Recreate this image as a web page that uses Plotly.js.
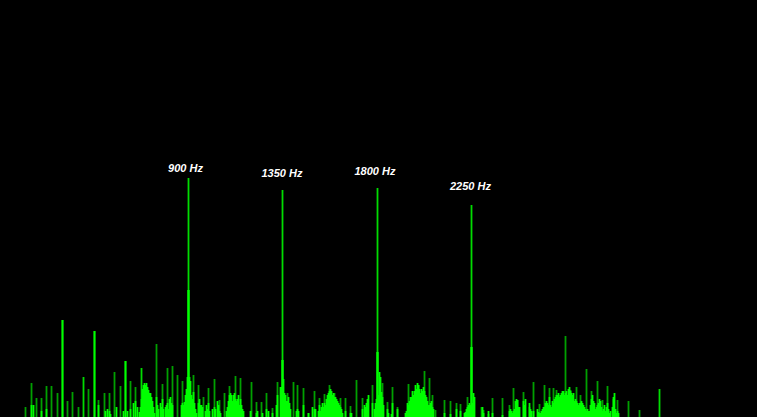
<!DOCTYPE html>
<html><head><meta charset="utf-8">
<script src="https://cdn.plot.ly/plotly-3.0.1.min.js"></script>
<style>html,body{margin:0;padding:0;background:#000}</style></head>
<body><div id="c" style="width:757px;height:417px"></div>
<script>
// Spectrum bins (one bin per drawn column) and magnitudes
const dimBins=[25,31,36,41,46,51,57,67,72,78,88,98,104,109,114,120,130,135,156,162,167,172,177,182,193,198,203,208,214,219,224,229,235,240,251,256,261,266,272,277,287,293,297,303,308,314,319,324,329,334,340,345,350,356,362,365,372,382,387,392,397,408,413,418,424,429,432,435,444,450,456,460,467,481,483,488,492,502,509,513,517,523,529,533,539,544,549,553,556,560,565,570,576,580,586,591,597,602,607,613,617,628,639];
const dimVals=[10,34,19,19,31,31,24,16,25,10,28,17,24,24,45,31,36,30,73,33,49,51,42,36,42,32,20,29,38,17,24,31,41,39,35,15,15,24,9,35,24,35,32,29,4,26,19,23,32,24,19,19,11,37,19,5,32,34,15,30,10,33,17,32,46,39,22,7,17,16,14,13,20,10,7,3,19,19,12,29,17,25,10,35,13,32,29,29,27,22,81,27,30,22,48,26,36,17,31,18,17,16,7];
const midBins=[62,83,94,125,141,188,282,377,471,659];
const midVals=[97,40,86,56,49,239,227,229,212,28];
const coreBins=[188,282,377,471];
const coreVals=[127,57,65,70];
const brightBins=[31,33,41,46,62,94,98,105,107,109,110,116,123,125,127,130,133,135,137,139,140,141,142,143,144,145,146,147,148,149,150,151,152,153,154,156,157,158,160,161,162,163,165,166,167,168,169,170,171,172,181,182,183,184,185,186,187,189,190,191,192,193,194,195,196,198,199,200,201,202,205,206,207,208,209,212,214,215,217,218,219,220,226,227,228,229,230,231,232,233,234,235,236,237,238,239,240,241,242,243,250,256,257,262,266,268,272,276,277,280,281,283,284,285,286,287,288,289,290,296,297,298,303,308,312,314,315,318,319,320,321,322,323,324,325,326,327,328,329,330,331,332,333,334,335,336,337,338,339,340,341,342,345,350,351,362,364,365,366,367,368,372,374,375,376,378,379,380,381,382,383,387,388,391,392,397,405,406,407,408,409,410,411,412,413,414,415,416,417,418,419,420,421,422,423,424,425,426,427,428,429,430,431,432,433,444,450,456,460,464,465,466,467,468,469,470,472,473,474,482,483,488,492,502,509,510,511,512,513,514,515,516,517,518,519,523,524,525,529,530,531,533,537,538,539,540,541,542,543,544,545,546,547,548,549,550,551,552,553,554,555,556,557,558,559,560,561,562,563,564,565,566,567,568,569,570,571,572,573,574,575,576,577,578,579,580,581,582,583,584,585,586,587,588,589,590,591,592,593,594,595,596,597,598,599,600,601,602,603,604,605,606,607,608,609,610,612,613,614,615,616,617,618];
const brightVals=[12,12,6,8,97,86,12,6,8,6,3,10,6,56,6,8,14,16,10,5,10,18,28,32,34,32,34,30,27,24,24,20,16,10,4,20,12,8,14,10,18,8,10,12,14,8,18,20,14,12,12,14,12,15,22,28,40,40,36,22,18,25,14,8,4,14,18,12,12,10,6,12,8,14,6,8,10,8,16,12,6,4,6,10,16,22,24,22,16,22,24,18,16,18,22,12,18,12,8,6,6,4,6,4,8,6,4,12,22,30,30,38,24,22,16,16,20,14,8,6,8,6,12,4,10,8,8,6,12,6,10,14,10,14,12,18,22,24,26,28,26,22,24,20,20,18,16,14,12,10,8,4,6,4,4,8,12,10,14,18,22,14,8,14,18,22,45,40,25,20,12,8,4,3,14,8,4,6,14,12,16,20,20,26,22,26,32,28,34,32,28,24,28,26,30,26,22,20,16,12,12,14,16,10,8,4,3,8,6,4,5,8,10,12,14,12,14,24,20,10,4,6,4,2,6,8,6,4,6,8,16,18,17,10,10,16,12,18,14,8,6,6,8,5,4,4,6,8,10,10,14,16,14,12,20,12,10,16,14,18,20,22,22,24,20,22,24,26,26,22,24,26,22,28,30,26,24,22,24,16,18,16,14,12,14,14,16,14,12,10,8,6,8,6,6,12,18,22,16,14,8,10,12,14,18,16,10,6,8,12,6,10,14,8,4,6,10,20,24,8,4,6,4,4,10,6,5,4,3];
const labelFreqs=[900,1350,1800,2250];
const labelBins=[185.5,282,375,470.5];
const labelVals=[248,242.5,244.5,229.5];
const labelTexts=labelFreqs.map(f=>'<i><b>'+f+' Hz</b></i>');

const bar=(x,y,color,width)=>({type:'bar',x:x,y:y,width:width,offset:-width/2+0.5,marker:{color:color,line:{width:0}},hoverinfo:'skip',showlegend:false});
const data=[
 bar(dimBins,dimVals,'#00a000',1.8),
 bar(midBins,midVals,'#00dc00',1.8),
 bar(brightBins,brightVals,'#00ff00',1.8),
 bar(coreBins,coreVals,'#00ff00',2.4),
 {type:'scatter',mode:'text',x:labelBins,y:labelVals,text:labelTexts,textposition:'middle center',
  textfont:{family:'Liberation Sans, Arial, sans-serif',size:11,color:'#ffffff'},hoverinfo:'skip',showlegend:false}
];
const layout={width:757,height:417,margin:{l:0,r:0,t:0,b:0},paper_bgcolor:'#000',plot_bgcolor:'#000',barmode:'overlay',
 xaxis:{range:[0,757],visible:false,fixedrange:true},yaxis:{range:[0,417],visible:false,fixedrange:true},showlegend:false};
Plotly.newPlot('c',data,layout,{displayModeBar:false,staticPlot:true});
</script></body></html>
